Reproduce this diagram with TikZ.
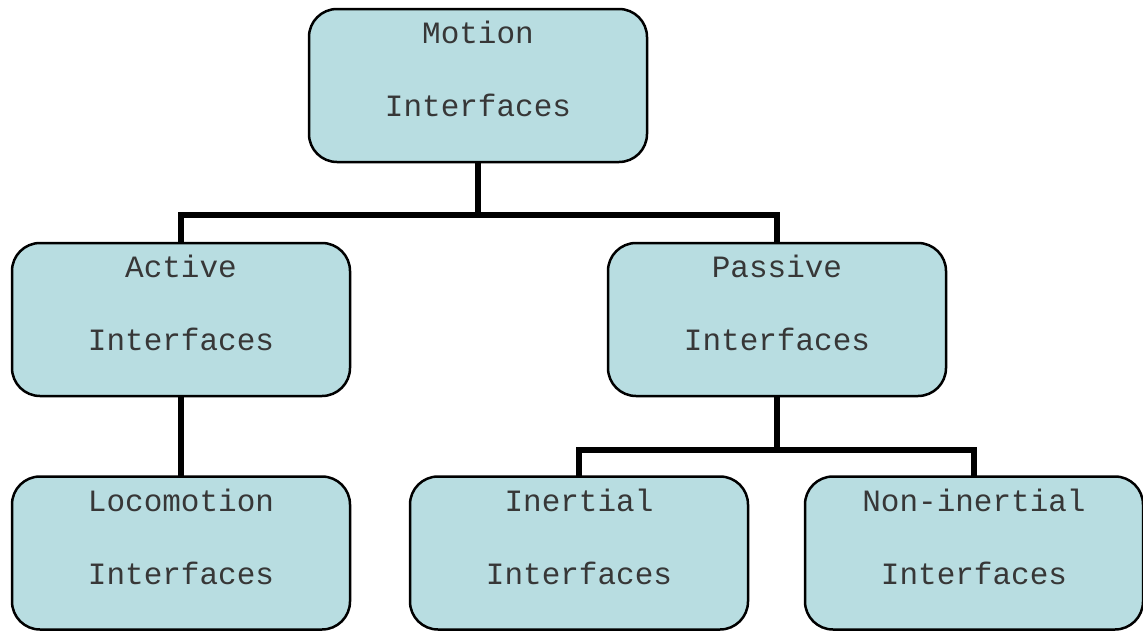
\documentclass[tikz,border=0pt]{standalone}
\usepackage{fontspec}
\newfontfamily\boxfont{Liberation Mono}
\definecolor{boxfill}{RGB}{184,221,225}
\definecolor{inkgray}{RGB}{55,55,55}
\tikzset{
  tree box/.style={draw=black, line width=2.5pt, fill=boxfill, rounded corners=28pt,
    minimum width=338pt, minimum height=153pt, inner sep=0pt},
  box text/.style={anchor=base, inner sep=0pt, text=inkgray,
    font=\boxfont\fontsize{31}{37}\selectfont},
  branch/.style={draw=black, line width=5.5pt, line join=miter}
}
% box with two lines of text; #1 name, #2 centre, #3 first line, #4 second line
\newcommand\treebox[4]{%
  \node[tree box] (#1) at (#2) {};
  \node[box text] (#1-a) at ([yshift=42pt]#1.center) {#3};
  \node[box text] (#1-b) at ([yshift=-31pt]#1.center) {#4};
}
\begin{document}
\begin{tikzpicture}[x=1pt, y=-1pt]
  \useasboundingbox (0,0) rectangle (1143,632);
  % connectors first, boxes drawn over their ends
  \coordinate (j1) at (478,215);
  \coordinate (j2) at (777,450);
  \coordinate (m) at (478,85.5);
  \coordinate (a) at (181,319.5);
  \coordinate (p) at (777,319.5);
  \coordinate (l) at (181,553);
  \coordinate (i) at (579,553);
  \coordinate (n) at (974,553);
  \path[branch] (m) -- (j1);
  \path[branch] (a) |- (j1) -| (p);
  \path[branch] (a) -- (l);
  \path[branch] (p) -- (j2);
  \path[branch] (i) |- (j2) -| (n);
  % boxes
  \treebox{motion}{m}{Motion}{Interfaces}
  \treebox{active}{a}{Active}{Interfaces}
  \treebox{passive}{p}{Passive}{Interfaces}
  \treebox{loco}{l}{Locomotion}{Interfaces}
  \treebox{inertial}{i}{Inertial}{Interfaces}
  \treebox{noninertial}{n}{Non-inertial}{Interfaces}
\end{tikzpicture}
\end{document}
